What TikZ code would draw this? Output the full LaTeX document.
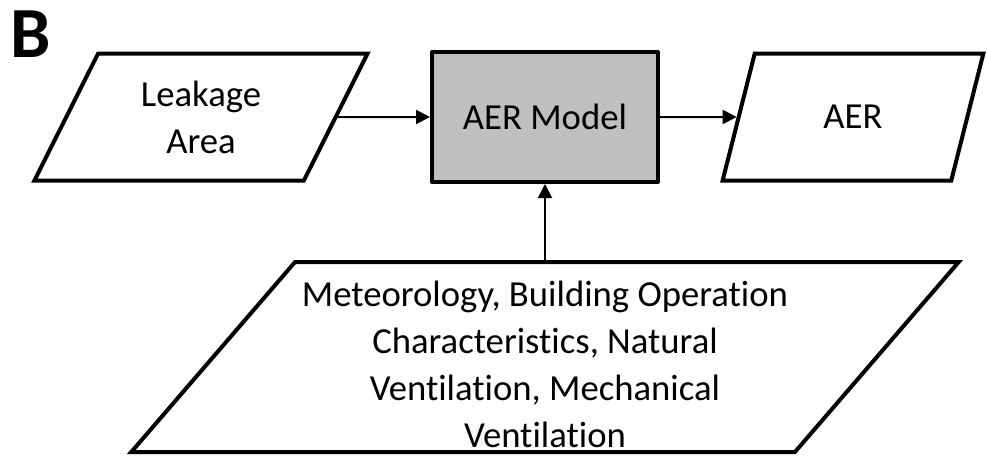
\documentclass[tikz,border=0pt]{standalone}
\usepackage{fontspec}
\setmainfont{Carlito}[Ligatures=NoCommon]
\usetikzlibrary{arrows.meta,shapes.geometric}
\tikzset{
    io/.style={draw,line width=4pt,trapezium,trapezium stretches=true,inner sep=0pt,align=center},
    block/.style={draw,line width=4pt,line join=round,fill=gray!50,minimum width=226pt,minimum height=130pt,inner sep=0pt}
}
\begin{document}
\begin{tikzpicture}[x=1pt,y=1pt,->,>={Triangle[length=14pt,width=14pt]},line width=2pt,font=\fontsize{36.7}{47}\selectfont]
        \useasboundingbox (0,0) rectangle (987,-455);
        \node[block] (model) at (545,-117) {AER Model};
        \node[io,node distance=344pt,minimum width=334pt,minimum height=127pt,trapezium left angle=62.9,trapezium right angle=117.1] (leak) [left of=model] {Leakage\\Area};
        \node[io,node distance=308pt,minimum width=262pt,minimum height=127pt,trapezium left angle=67.7,trapezium right angle=112.3] (aer) [right of=model] {AER};
        \node[io,node distance=240pt,minimum width=832pt,minimum height=190pt,trapezium left angle=48.7,trapezium right angle=131.3,text height=181pt] (env) [below of=model] {Meteorology, Building Operation\\Characteristics, Natural\\Ventilation, Mechanical\\Ventilation};
        % panel letter
        \node[inner sep=0pt,font=\fontsize{72}{80}\selectfont\bfseries] (panel) at (31,-34) {B};
        \path
        (leak) edge (model)
        (model) edge (aer)
        (env) edge (model);
\end{tikzpicture}
\end{document}
